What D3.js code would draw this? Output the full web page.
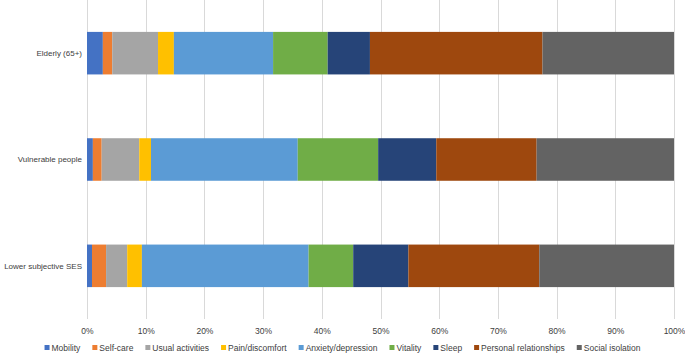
<!DOCTYPE html>
<html>
<head>
<meta charset="utf-8">
<script src="https://cdn.jsdelivr.net/npm/d3@7"></script>
<style>
  body { margin: 0; background: #fff; }
  text { font-family: "Liberation Sans", Arial, sans-serif; fill: #404040; }
</style>
</head>
<body>
<div id="chart"></div>
<script>
const groups = ['Elderly (65+)', 'Vulnerable people', 'Lower subjective SES'];
const domains = ['Mobility', 'Self-care', 'Usual activities', 'Pain/discomfort', 'Anxiety/depression',
  'Vitality', 'Sleep', 'Personal relationships', 'Social isolation'];
const colors = ['#4472C4', '#ED7D31', '#A5A5A5', '#FFC000', '#5B9BD5', '#70AD47', '#264478', '#9E480E', '#636363'];

// share (%) of each domain per group, same order as domains
const elderly = [2.7, 1.6, 7.8, 2.7, 16.9, 9.3, 7.2, 29.4, 22.4];
const vulnerable = [1.0, 1.5, 6.4, 2.0, 25.0, 13.7, 9.9, 17.1, 23.4];
const lowerSes = [0.85, 2.4, 3.6, 2.5, 28.4, 7.6, 9.4, 22.3, 22.95];
const xTicks = [0, 10, 20, 30, 40, 50, 60, 70, 80, 90, 100];

const seriesByGroup = [elderly, vulnerable, lowerSes];

const W = 685, H = 355;
const margin = { top: 0, right: 11, bottom: 36, left: 87 };
const width = W - margin.left - margin.right;
const height = H - margin.top - margin.bottom;

const svg = d3.select('#chart')
  .append('svg')
  .attr('width', W)
  .attr('height', H);

const g = svg.append('g')
  .attr('transform', `translate(${margin.left},${margin.top})`);

const x = d3.scaleLinear().domain([0, 100]).range([0, width]);
const y = d3.scaleBand().domain(groups).range([0, height]).paddingInner(0.6).paddingOuter(0.3);

// gridlines
g.append('g')
  .selectAll('line')
  .data(xTicks)
  .enter()
  .append('line')
  .attr('x1', d => Math.round(x(d)) + 0.5)
  .attr('x2', d => Math.round(x(d)) + 0.5)
  .attr('y1', 0)
  .attr('y2', height)
  .attr('stroke', '#d9d9d9')
  .attr('stroke-width', 1);

// stacked segments
const rows = groups.map((name, i) => {
  let acc = 0;
  return seriesByGroup[i].map((v, j) => {
    const seg = { group: name, key: domains[j], x0: acc, x1: acc + v, color: colors[j] };
    acc += v;
    return seg;
  });
});

g.append('g')
  .selectAll('g')
  .data(rows)
  .enter()
  .append('g')
  .selectAll('rect')
  .data(d => d)
  .enter()
  .append('rect')
  .attr('x', d => x(d.x0))
  .attr('width', d => x(d.x1) - x(d.x0))
  .attr('y', d => y(d.group))
  .attr('height', y.bandwidth())
  .attr('fill', d => d.color);

// category labels
g.append('g')
  .selectAll('text')
  .data(groups)
  .enter()
  .append('text')
  .attr('x', -5)
  .attr('y', d => y(d) + y.bandwidth() / 2)
  .attr('dy', '0.35em')
  .attr('text-anchor', 'end')
  .style('font-size', '8px')
  .text(d => d);

// x axis labels
const xAxis = g.append('g')
  .attr('transform', `translate(0,${height})`)
  .call(d3.axisBottom(x).tickValues(xTicks).tickSize(0).tickPadding(9).tickFormat(d => d + '%'));
xAxis.select('.domain').remove();
xAxis.selectAll('text')
  .style('font-size', '8.5px')
  .style('font-family', '"Liberation Sans", Arial, sans-serif')
  .attr('fill', '#404040');

// legend
const legend = svg.append('g').attr('transform', `translate(0,${H - 7})`);
const items = legend.selectAll('g')
  .data(domains)
  .enter()
  .append('g');

items.append('rect')
  .attr('width', 5)
  .attr('height', 5)
  .attr('y', -3)
  .attr('fill', (d, i) => colors[i]);

items.append('text')
  .attr('x', 7)
  .attr('dy', '0.35em')
  .style('font-size', '8.5px')
  .text(d => d);

let offset = 0;
items.each(function() {
  const w = d3.select(this).select('text').node().getComputedTextLength();
  d3.select(this).attr('transform', `translate(${offset},0)`);
  offset += 7 + w + 12;
});
const total = offset - 12;
legend.attr('transform', `translate(${(W - total) / 2},${H - 7})`);
</script>
</body>
</html>
